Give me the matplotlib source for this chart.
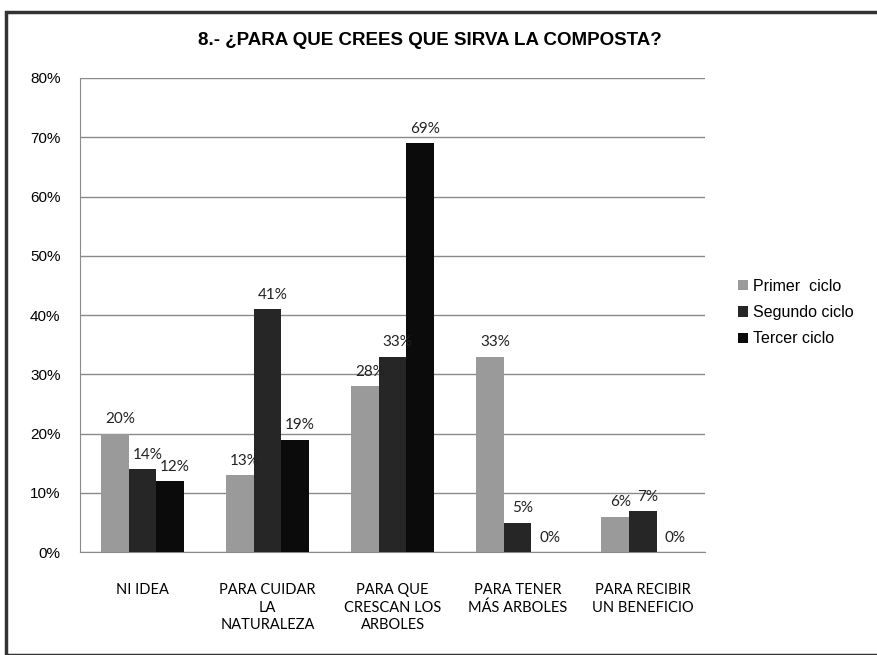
import numpy as np
import matplotlib.pyplot as plt
from matplotlib.patches import Rectangle

categories = ["NI IDEA", "PARA CUIDAR\nLA\nNATURALEZA", "PARA QUE\nCRESCAN LOS\nARBOLES",
              "PARA TENER\nMÁS ARBOLES", "PARA RECIBIR\nUN BENEFICIO"]
series = ["Primer  ciclo", "Segundo ciclo", "Tercer ciclo"]
primer = [20, 13, 28, 33, 6]
segundo = [14, 41, 33, 5, 7]
tercer = [12, 19, 69, 0, 0]
colors = ["#9a9a9a", "#262626", "#0b0b0b"]

plt.rcParams['font.family'] = ['Liberation Sans', 'DejaVu Sans']

fig = plt.figure(figsize=(8.77, 6.55), dpi=100)
ax = fig.add_axes([0.0912, 0.157, 0.713, 0.724])

x = np.arange(len(categories))
w = 0.22
for i, (vals, name) in enumerate(zip([primer, segundo, tercer], series)):
    pos = x + (i - 1) * w
    ax.bar(pos, vals, width=w, color=colors[i], label=name, zorder=3)
    for p, v in zip(pos, vals):
        ax.text(p + 0.04, v + 1.2, f"{v}%", ha="center", va="bottom",
                fontsize=11, family=["Lato", "DejaVu Sans"], color="#222222", zorder=4)

ax.set_xlim(-0.5, len(categories) - 0.5)
ax.set_ylim(0, 80)
ax.set_yticks(range(0, 81, 10))
ax.set_yticklabels([f"{t}%" for t in range(0, 81, 10)], fontsize=11)
ax.set_xticks(x)
ax.set_xticklabels(categories, fontsize=10.5, family=["Lato", "DejaVu Sans"], linespacing=1.35)
ax.tick_params(axis="x", length=0, pad=22)
ax.tick_params(axis="y", length=0, pad=14)
ax.grid(axis="y", color="#8a8a8a", linewidth=1, zorder=0)
for s in ["top", "right"]:
    ax.spines[s].set_visible(False)
ax.spines["left"].set_color("#8a8a8a")
ax.spines["bottom"].set_color("#8a8a8a")

ax.legend(loc="center left", bbox_to_anchor=(1.03, 0.505), frameon=False, fontsize=11.5,
          handlelength=0.6, handleheight=0.6, handletextpad=0.3, labelspacing=0.7)

fig.text(0.49, 0.938, "8.- ¿PARA QUE CREES QUE SIRVA LA COMPOSTA?", ha="center", va="center",
         fontsize=13.5, fontweight="bold")

fig.patches.append(Rectangle((0.007, 0.0), 0.995, 0.982, transform=fig.transFigure,
                             fill=False, edgecolor="#333333", linewidth=2.5))

fig.savefig("out.png", dpi=100)
